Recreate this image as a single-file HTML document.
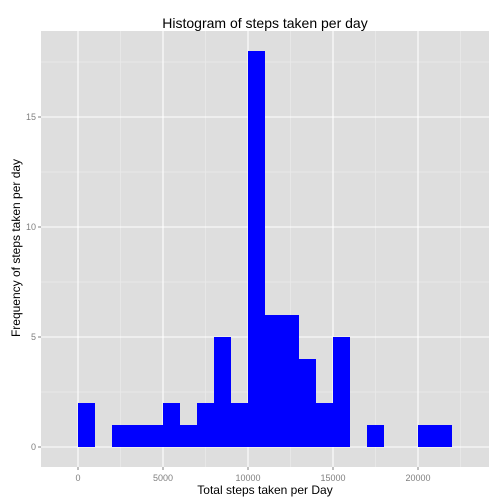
<!DOCTYPE html>
<html><head><meta charset="utf-8"><style>body{margin:0;background:#fff}svg{display:block;font-family:"Liberation Sans",sans-serif}</style></head><body>
<svg id="c" width="504" height="504"></svg>
<script>
const binStarts=[0,1000,2000,3000,4000,5000,6000,7000,8000,9000,10000,11000,12000,13000,14000,15000,16000,17000,18000,19000,20000,21000];
const counts=[2,0,1,1,1,2,1,2,5,2,18,6,6,4,2,5,0,1,0,0,1,1];
const xTicks=[0,5000,10000,15000,20000];
const yTicks=[0,5,10,15];
const binWidth=1000;
const L=41,R=489,T=31,B=467;
const x=v=>78+v*0.017;
const y=v=>447-v*22;
const s=document.getElementById('c');
const NS='http://www.w3.org/2000/svg';
function add(tag,a,name,txt){const e=document.createElementNS(NS,tag);for(const k in a)e.setAttribute(k,a[k]);


if(txt!==undefined)e.textContent=txt;s.appendChild(e);return e;}
add('rect',{x:L,y:T,width:R-L,height:B-T,fill:'#dedede'},'plot-panel');
for(let i=0;i<xTicks.length+1;i++){const v=xTicks[0]-2500+i*5000;if(x(v)>L&&x(v)<R)add('line',{x1:x(v),x2:x(v),y1:T,y2:B,stroke:'#ebebeb','stroke-width':0.7},'x-minor-grid');}
for(let i=0;i<yTicks.length;i++){const v=yTicks[i]+2.5;if(y(v)>T)add('line',{x1:L,x2:R,y1:y(v),y2:y(v),stroke:'#ebebeb','stroke-width':0.7},'y-minor-grid');}
xTicks.forEach(v=>add('line',{x1:x(v),x2:x(v),y1:T,y2:B,stroke:'#fff','stroke-width':1.1},'x-major-grid'));
yTicks.forEach(v=>add('line',{x1:L,x2:R,y1:y(v),y2:y(v),stroke:'#fff','stroke-width':1.1},'y-major-grid'));
counts.forEach((c,i)=>{if(c>0)add('rect',{x:x(binStarts[i]),y:y(c),width:x(binStarts[i]+binWidth)-x(binStarts[i]),height:y(0)-y(c),fill:'#0000ff'},'bar');});
xTicks.forEach(v=>{add('line',{x1:x(v),x2:x(v),y1:B,y2:B+3,stroke:'#7f7f7f'},'x-tick');add('text',{x:x(v),y:B+14,'font-size':9,fill:'#7f7f7f','text-anchor':'middle'},'x-tick-label',v);});
yTicks.forEach(v=>{add('line',{x1:L-3,x2:L,y1:y(v),y2:y(v),stroke:'#7f7f7f'},'y-tick');add('text',{x:L-5,y:y(v)+3,'font-size':9,fill:'#7f7f7f','text-anchor':'end'},'y-tick-label',v);});
add('text',{x:265,y:28,'font-size':14,'text-anchor':'middle',fill:'#000'},'chart-title','Histogram of steps taken per day');
add('text',{x:265,y:494,'font-size':12,'text-anchor':'middle',fill:'#000'},'x-axis-title','Total steps taken per Day');
add('text',{x:20,y:248,'font-size':12,'text-anchor':'middle',fill:'#000',transform:'rotate(-90 20 248)'},'y-axis-title','Frequency of steps taken per day');
</script>
</body></html>
